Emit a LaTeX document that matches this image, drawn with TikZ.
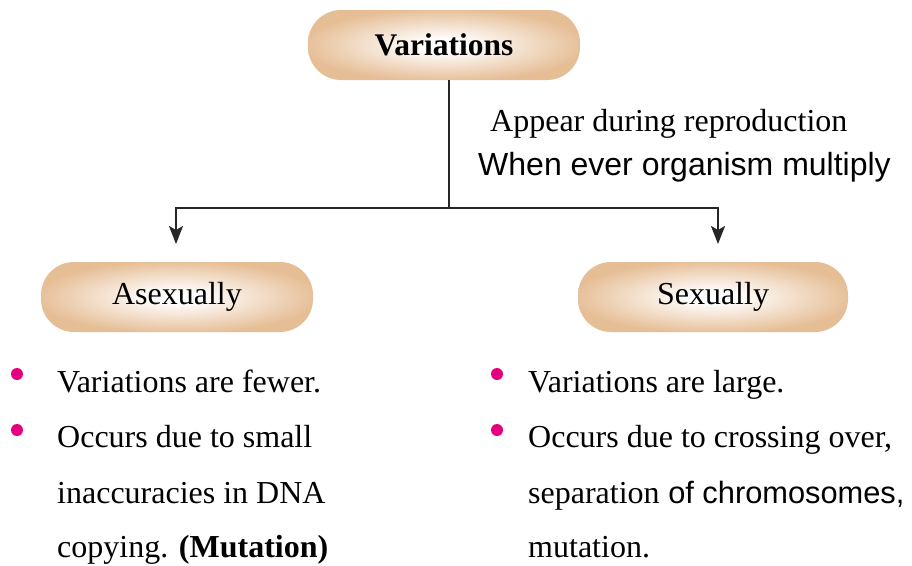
\documentclass[tikz,border=0pt]{standalone}
\usepackage{fontspec}
\setmainfont{Liberation Serif}
\newfontfamily\arialf{Liberation Sans}
\usetikzlibrary{arrows.meta}
\definecolor{tan}{RGB}{230,190,150}
\definecolor{bulletpink}{RGB}{230,0,126}
\pgfdeclareradialshading{pillshade}{\pgfpoint{0bp}{0bp}}{%
  color(0bp)=(white); color(4bp)=(white); color(26bp)=(tan); color(50bp)=(tan)}
\tikzset{
  pill/.style={rounded corners=33pt, minimum width=272pt, minimum height=70pt,
    shading=pillshade, text=black},
  conn/.style={line width=2.2pt, draw=black!85},
  tip/.style={-{Stealth[length=18pt,width=14pt,inset=4pt]}},
  txt/.style={anchor=base west, inner sep=0pt, font=\fontsize{32}{38}\selectfont},
  dot/.style={circle, fill=bulletpink, inner sep=0pt, minimum size=12pt}
}
\begin{document}
\begin{tikzpicture}[x=1pt,y=-1pt]
\useasboundingbox (0,0) rectangle (912,565);
\node[pill] (var) at (444,45) {\fontsize{31.5}{36}\selectfont\bfseries Variations};
\node[pill] (asx) at (177,297) {\fontsize{32}{38}\selectfont Asexually};
\node[pill, minimum width=270pt] (sx) at (713,297) {\fontsize{32}{38}\selectfont Sexually};
\coordinate (j) at (449,208);
\coordinate (jl) at (176,208);
\coordinate (jr) at (718,208);
\coordinate (al) at (176,244);
\coordinate (ar) at (718,244);
\draw[conn] (var.south -| j) -- (j);
\draw[conn, tip] (j) -- (jl) -- (al);
\draw[conn, tip] (j) -- (jr) -- (ar);
\node[txt] (t1) at (490,131) {Appear during reproduction};
\node[txt, font=\arialf\fontsize{32}{38}\selectfont] (t2) at (478,175) {When ever organism multiply};
% left bullets
\node[dot] (b1) at (17,374) {};
\node[dot] (b2) at (17,430) {};
\node[txt] (l1) at (57,392) {Variations are fewer.};
\node[txt] (l2) at (57,447) {Occurs due to small};
\node[txt] (l3) at (57,503) {inaccuracies in DNA};
\node[txt] (l4) at (57,557) {copying. {\bfseries (Mutation)}};
% right bullets
\node[dot] (b3) at (497,374) {};
\node[dot] (b4) at (497,430) {};
\node[txt] (r1) at (528,392) {Variations are large.};
\node[txt] (r2) at (528,447) {Occurs due to crossing over,};
\node[txt] (r3) at (528,503) {separation{\arialf\fontsize{30.8}{36}\selectfont\ of chromosomes,}};
\node[txt] (r4) at (528,557) {mutation.};
\end{tikzpicture}
\end{document}
